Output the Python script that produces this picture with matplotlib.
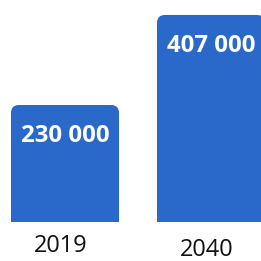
import matplotlib
matplotlib.use("Agg")
import matplotlib.pyplot as plt
from matplotlib.patches import FancyBboxPatch

categories = ["2019", "2040"]
values = [230000, 407000]
value_labels = ["230 000", "407 000"]

BLUE = "#2a68c9"
DPI = 100
PT = 72 / DPI
fig = plt.figure(figsize=(2.61, 2.61), dpi=DPI)
fig.patch.set_facecolor("white")

# axes: bottom of bars at 222 px from top
ax_bottom = 39 / 261
ax = fig.add_axes([0, ax_bottom, 1, 1 - ax_bottom])
ax.set_axis_off()

px_per_unit = 146.0
x0 = 65 / px_per_unit
ax.set_xlim(-x0, -x0 + 261 / px_per_unit)
val_per_px = 230000 / 117
ax.set_ylim(0, 222 * val_per_px)

xs = list(range(len(categories)))
width = 108 / px_per_unit
bars = ax.bar(xs, values, width=width, color=BLUE)

radius_px = 8
rx = radius_px / px_per_unit
ry = radius_px * val_per_px
for b in bars:
    b.set_visible(False)
    x, y = b.get_x(), b.get_y()
    w, h = b.get_width(), b.get_height()
    p = FancyBboxPatch((x, y - 2 * ry), w, h + 2 * ry,
                       boxstyle=f"round,pad=0,rounding_size={rx}",
                       mutation_aspect=ry / rx,
                       facecolor=BLUE, edgecolor="none")
    ax.add_patch(p)

for xi, v, lab in zip(xs, values, value_labels):
    ax.annotate(lab, (xi, v), xytext=(0, -37.5 * PT), textcoords="offset points",
                ha="center", va="baseline", color="white", fontsize=24 * PT,
                fontweight="bold", family="Open Sans")

label_dy = (-30, -34)
for xi, cat, dy in zip(xs, categories, label_dy):
    ax.annotate(cat, (xi, 0), xytext=(-4.5 * PT, dy * PT), textcoords="offset points",
                ha="center", va="baseline", color="#111111", fontsize=23.5 * PT,
                family="Open Sans", annotation_clip=False)

fig.savefig("out.png", dpi=DPI)
